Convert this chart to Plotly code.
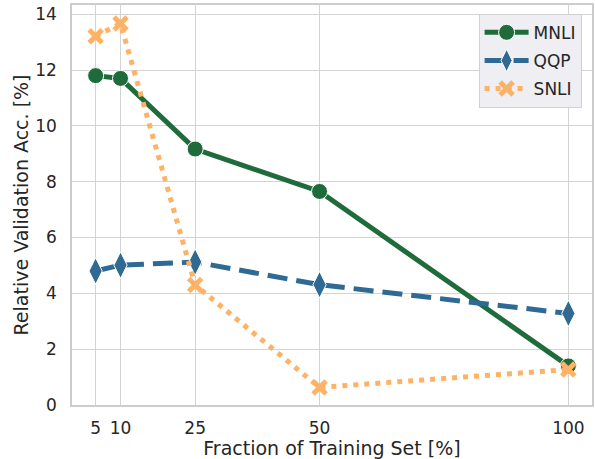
import plotly.graph_objects as go

fractions = [5, 10, 25, 50, 100]
mnli = [11.8, 11.7, 9.17, 7.65, 1.4]
qqp = [4.8, 5.01, 5.12, 4.31, 3.28]
snli = [13.21, 13.67, 4.3, 0.63, 1.27]
x_ticks = [5, 10, 25, 50, 100]
y_ticks = [0, 2, 4, 6, 8, 10, 12, 14]

fig = go.Figure()
fig.add_trace(go.Scatter(
    x=fractions, y=mnli, name="MNLI", mode="lines+markers", legendgroup="a",
    line=dict(color="#1f6b3b", width=5),
    marker=dict(symbol="circle", size=16, color="#1f6b3b", line=dict(color="white", width=1)),
))
fig.add_trace(go.Scatter(
    x=fractions, y=qqp, name="QQP", mode="lines+markers", legendgroup="b",
    line=dict(color="#2e6a94", width=5, dash="20px,9px"),
    marker=dict(symbol="diamond-tall", size=19, color="#2e6a94", line=dict(color="white", width=1)),
))
fig.add_trace(go.Scatter(
    x=fractions, y=snli, name="SNLI", mode="lines+markers", legendgroup="c",
    line=dict(color="#fdb266", width=5, dash="5px,6px"),
    marker=dict(symbol="x-thin-open", size=13, color="#fdb266", line=dict(color="#fdb266", width=5)),
))

fig.update_layout(
    width=595, height=459,
    margin=dict(l=72, r=3, t=5, b=54),
    plot_bgcolor="white", paper_bgcolor="white",
    font=dict(family="DejaVu Sans", color="#262626", size=17),
    showlegend=True,
    legend=dict(
        x=0.98, y=0.978, xanchor="right", yanchor="top",
        bgcolor="#eeeef3", bordercolor="#d0d0d0", borderwidth=1,
        font=dict(size=17, color="#262626"),
        tracegroupgap=3, itemwidth=44,
    ),
)
fig.update_xaxes(
    range=[0.25, 104.75], tickvals=x_ticks, ticktext=[str(v) for v in x_ticks],
    showgrid=True, gridcolor="#d3d3d3", gridwidth=1,
    showline=True, linecolor="#cccccc", linewidth=1.5, mirror=True,
    zeroline=False, ticks="", tickfont=dict(size=17), ticklabelstandoff=7,
    automargin=False,
    title=dict(text="Fraction of Training Set [%]", font=dict(size=19), standoff=3),
)
fig.update_yaxes(
    range=[0, 14.33], tickvals=y_ticks,
    showgrid=True, gridcolor="#d3d3d3", gridwidth=1,
    showline=True, linecolor="#cccccc", linewidth=1.5, mirror=True,
    zeroline=False, ticks="", tickfont=dict(size=17), ticklabelstandoff=10,
    automargin=False,
    title=dict(text="Relative Validation Acc. [%]", font=dict(size=19), standoff=2),
)

fig.write_html("out.html", config={"displayModeBar": False},
               post_script="document.body.style.margin='0';document.body.style.padding='0';")
